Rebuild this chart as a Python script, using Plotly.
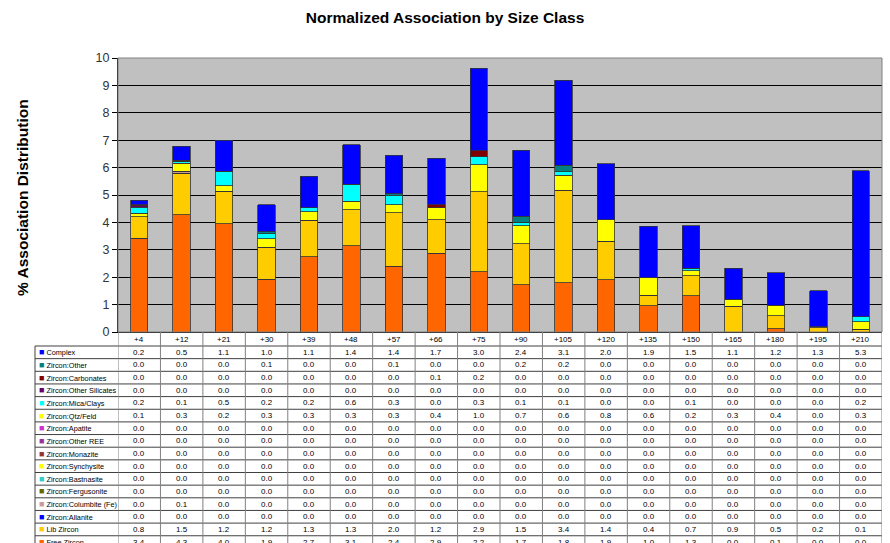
import plotly.graph_objects as go

categories = ["+4", "+12", "+21", "+30", "+39", "+48", "+57", "+66", "+75",
              "+90", "+105", "+120", "+135", "+150", "+165", "+180", "+195", "+210"]

complex_v      = [0.17, 0.52, 1.12, 0.99, 1.15, 1.44, 1.42, 1.69, 3.00, 2.41, 3.10, 2.04, 1.88, 1.54, 1.12, 1.19, 1.30, 5.32]
z_other        = [0.0, 0.0, 0.0, 0.07, 0.0, 0.0, 0.06, 0.0, 0.0, 0.22, 0.24, 0.0, 0.0, 0.0, 0.0, 0.0, 0.0, 0.0]
z_carbonates   = [0.04, 0.03, 0.0, 0.0, 0.0, 0.0, 0.0, 0.12, 0.23, 0.0, 0.0, 0.0, 0.0, 0.0, 0.0, 0.0, 0.0, 0.0]
z_other_sil    = [0.04, 0.0, 0.0, 0.0, 0.0, 0.0, 0.0, 0.0, 0.0, 0.0, 0.0, 0.0, 0.0, 0.0, 0.0, 0.0, 0.0, 0.0]
z_mica         = [0.22, 0.07, 0.54, 0.19, 0.16, 0.63, 0.33, 0.0, 0.28, 0.12, 0.11, 0.0, 0.0, 0.10, 0.0, 0.0, 0.0, 0.18]
z_qtz          = [0.14, 0.30, 0.20, 0.30, 0.30, 0.31, 0.29, 0.43, 1.00, 0.66, 0.56, 0.78, 0.63, 0.17, 0.26, 0.39, 0.0, 0.28]
z_apatite      = [0.0] * 18
z_other_ree    = [0.0] * 18
z_monazite     = [0.0] * 18
z_synchysite   = [0.0] * 18
z_bastnasite   = [0.0] * 18
z_fergusonite  = [0.0] * 18
z_columbite    = [0.0, 0.06, 0.0, 0.0, 0.0, 0.0, 0.0, 0.0, 0.0, 0.0, 0.0, 0.0, 0.0, 0.0, 0.0, 0.0, 0.04, 0.0]
z_allanite     = [0.0] * 18
lib_zircon     = [0.77, 1.52, 1.18, 1.17, 1.34, 1.31, 1.96, 1.22, 2.92, 1.49, 3.38, 1.41, 0.39, 0.73, 0.94, 0.47, 0.16, 0.10]
free_zircon    = [3.43, 4.28, 3.95, 1.93, 2.74, 3.15, 2.40, 2.88, 2.19, 1.73, 1.79, 1.91, 0.96, 1.33, 0.0, 0.12, 0.0, 0.0]

series_names = ["Complex", "Zircon:Other", "Zircon:Carbonates", "Zircon:Other Silicates",
                "Zircon:Mica/Clays", "Zircon:Qtz/Feld", "Zircon:Apatite", "Zircon:Other REE",
                "Zircon:Monazite", "Zircon:Synchysite", "Zircon:Bastnasite", "Zircon:Fergusonite",
                "Zircon:Columbite (Fe)", "Zircon:Allanite", "Lib Zircon", "Free Zircon"]
series_values = [complex_v, z_other, z_carbonates, z_other_sil, z_mica, z_qtz, z_apatite,
                 z_other_ree, z_monazite, z_synchysite, z_bastnasite, z_fergusonite,
                 z_columbite, z_allanite, lib_zircon, free_zircon]
series_colors = ["#0000FF", "#008080", "#800000", "#660066", "#00FFFF", "#FFFF00", "#CC33CC",
                 "#993399", "#993333", "#FFFF00", "#33CCCC", "#666600", "#CC9999", "#0000FF",
                 "#FFCC00", "#FF6600"]

W, H = 890, 543
L, R, T, B = 118, 882, 58, 332
FONT = "Liberation Sans, Arial, sans-serif"


def px_x(px):
    return (px - L) / (R - L)


def px_y(py):
    return (B - py) / (B - T)


fig = go.Figure()
for name, vals, col in reversed(list(zip(series_names, series_values, series_colors))):
    fig.add_trace(go.Bar(x=categories, y=vals, name=name, marker_color=col,
                         marker_line_color="#333333", marker_line_width=0.8))

shapes = []
annotations = []

shapes.append(dict(type="rect", xref="paper", yref="paper", x0=0, x1=1, y0=0, y1=1,
                   line=dict(color="#808080", width=1), layer="above"))

header_bottom = 346.0
pitch = 12.65
n_rows = len(series_names)
row_lines = [header_bottom + pitch * k for k in range(n_rows + 1)]
left_px = 35

for k, yy in enumerate(row_lines):
    shapes.append(dict(type="line", xref="paper", yref="paper", x0=px_x(left_px), x1=1,
                       y0=px_y(yy), y1=px_y(yy), line=dict(color="#404040", width=1)))
n = len(categories)
for i in range(n + 1):
    shapes.append(dict(type="line", xref="x", yref="paper", x0=i - 0.5, x1=i - 0.5,
                       y0=px_y(B), y1=px_y(row_lines[-1] + 5),
                       line=dict(color="#808080", width=1)))
shapes.append(dict(type="line", xref="paper", yref="paper", x0=px_x(left_px), x1=px_x(left_px),
                   y0=px_y(header_bottom), y1=px_y(row_lines[-1] + 5),
                   line=dict(color="#404040", width=1)))

for i, c in enumerate(categories):
    annotations.append(dict(xref="x", yref="paper", x=i, y=px_y(339.3), text=c, showarrow=False,
                            xanchor="center", yanchor="middle",
                            font=dict(size=8, color="#000000", family=FONT)))

for r, (name, vals, col) in enumerate(zip(series_names, series_values, series_colors)):
    yc = px_y(header_bottom + pitch * r + pitch / 2)
    annotations.append(dict(xref="paper", yref="paper", x=px_x(37), y=yc, xanchor="left",
                            yanchor="middle",
                            text=f'<span style="color:{col};font-size:9px">■</span> {name}',
                            showarrow=False,
                            font=dict(size=7.3, color="#000000", family=FONT)))
    for i, v in enumerate(vals):
        annotations.append(dict(xref="x", yref="paper", x=i, y=yc, text=f"{v:.1f}",
                                xanchor="center", yanchor="middle",
                                showarrow=False, font=dict(size=8, color="#000000", family=FONT)))

annotations.append(dict(xref="paper", yref="paper", x=px_x(22), y=px_y(198),
                        text="<b>% Association Distribution</b>", xanchor="center", yanchor="middle",
                        textangle=-90, showarrow=False,
                        font=dict(size=15.5, color="#000000", family=FONT)))

fig.update_layout(
    width=W, height=H,
    margin=dict(l=L, r=W - R, t=T, b=H - B, pad=0, autoexpand=False),
    barmode="stack",
    bargap=0.59,
    showlegend=False,
    paper_bgcolor="#FFFFFF",
    plot_bgcolor="#C0C0C0",
    title=dict(text="<b>Normalized Association by Size Class</b>", xref="container", x=445 / W,
               xanchor="center", yref="container", y=1 - 18 / H, yanchor="middle",
               font=dict(size=15.5, color="#000000", family=FONT)),
    font=dict(family=FONT),
    shapes=shapes,
    annotations=annotations,
)
fig.update_xaxes(showticklabels=False, showgrid=False, showline=True, linecolor="#000000",
                 linewidth=1, ticks="", range=[-0.5, n - 0.5], fixedrange=True)
fig.update_yaxes(range=[0, 10], dtick=1, showgrid=True, gridcolor="#000000", gridwidth=1,
                 showline=True, linecolor="#000000", linewidth=1, ticks="outside", ticklen=5,
                 tickcolor="#000000", tickfont=dict(size=12.5, color="#333333", family=FONT),
                 zeroline=False, fixedrange=True, automargin=False)

fig.write_html("out.html", config={"displayModeBar": False},
               post_script="document.body.style.margin='0';document.body.style.overflow='hidden';")
